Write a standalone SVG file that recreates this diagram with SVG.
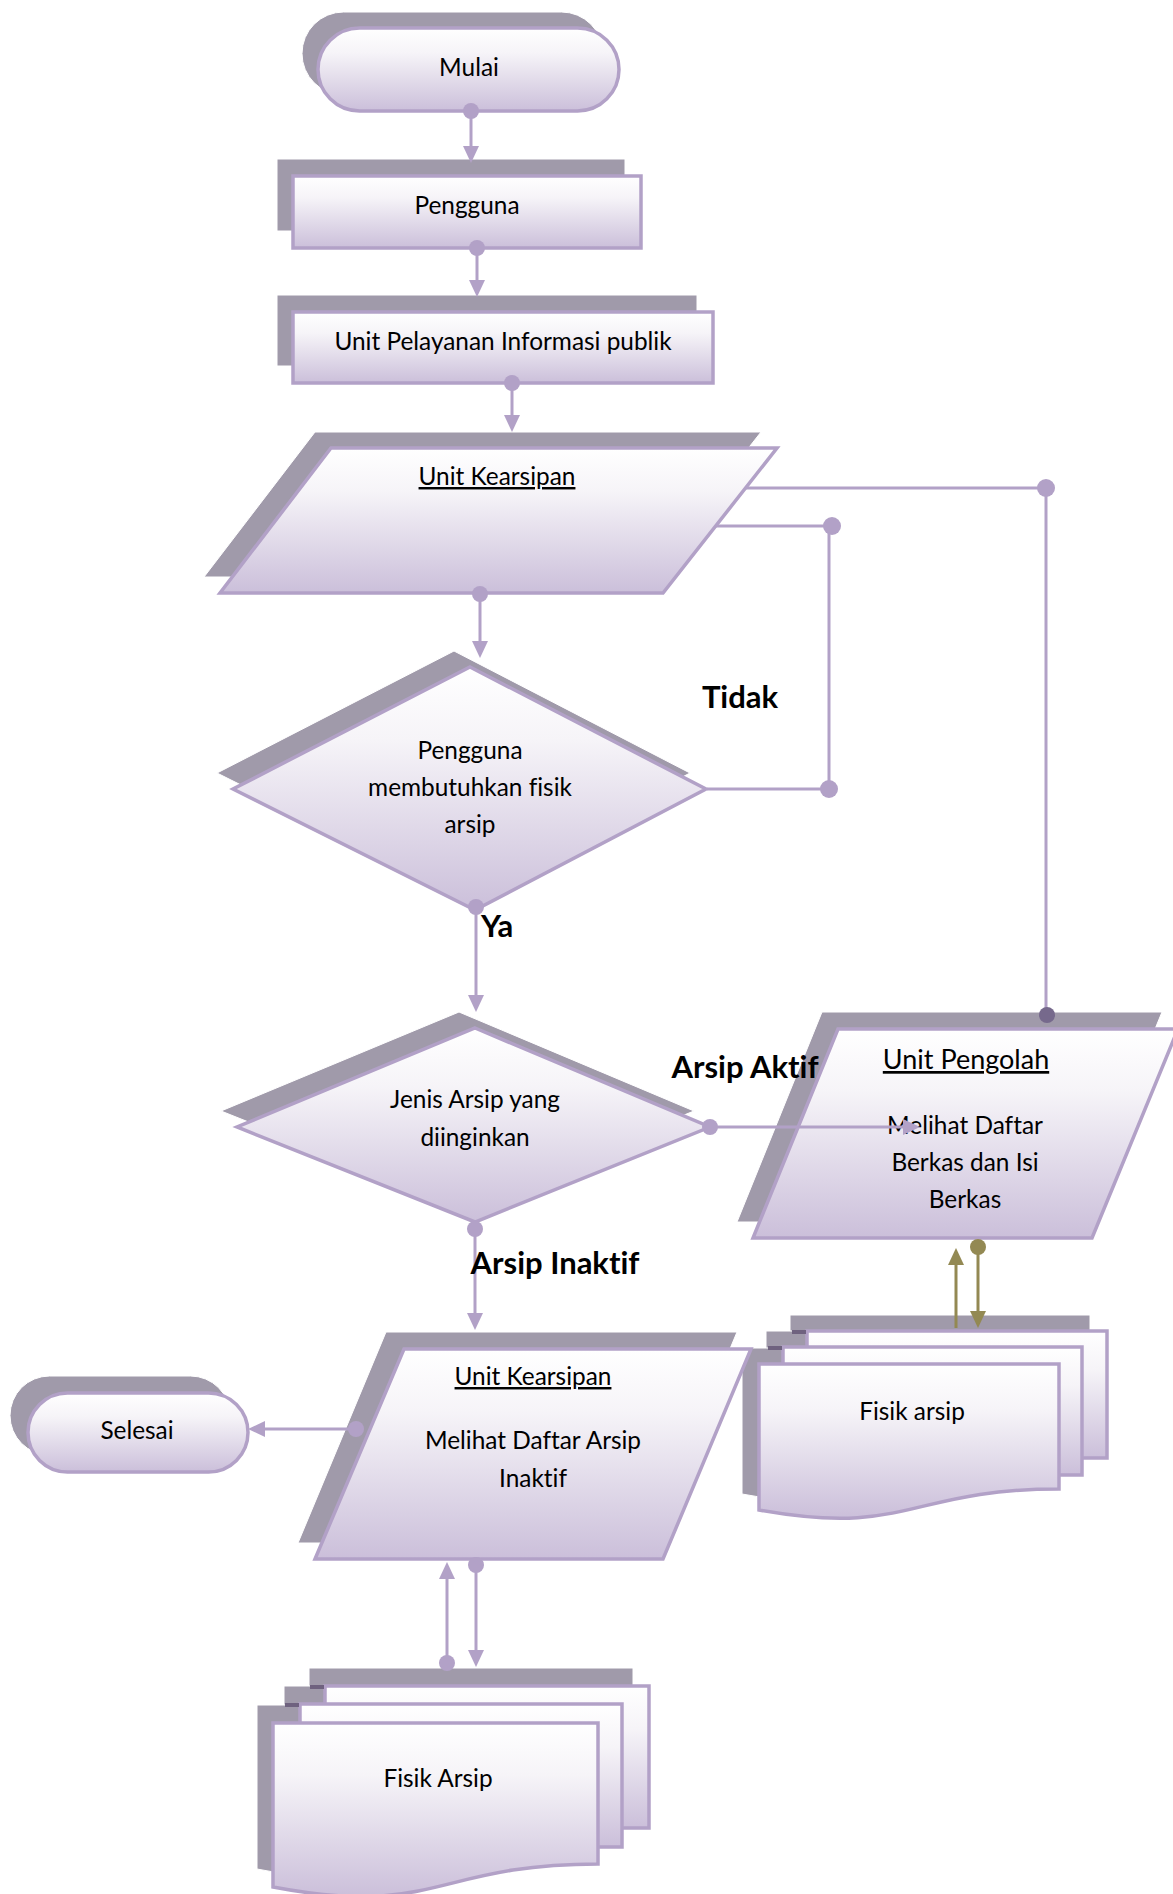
<svg xmlns="http://www.w3.org/2000/svg" width="1173" height="1894" viewBox="0 0 1173 1894">
<defs>
<linearGradient id="g" x1="0" y1="0" x2="0" y2="1">
<stop offset="0" stop-color="#ffffff"/>
<stop offset="0.3" stop-color="#f6f4f8"/>
<stop offset="1" stop-color="#cbbfda"/>
</linearGradient>
<marker id="arr" markerUnits="userSpaceOnUse" markerWidth="18" markerHeight="18" viewBox="0 0 18 18" refX="13" refY="9" orient="auto"><path d="M0,1 L17,9 L0,17 Z" fill="#b2a1c7"/></marker>
<marker id="arrO" markerUnits="userSpaceOnUse" markerWidth="18" markerHeight="18" viewBox="0 0 18 18" refX="13" refY="9" orient="auto"><path d="M0,1 L17,9 L0,17 Z" fill="#938953"/></marker>
</defs>
<style>
.sh{fill:#a09aaa;stroke:#ffffff;stroke-width:1}
.fr{fill:url(#g);stroke:#b2a1c7;stroke-width:3.5}
.t{font-family:Lato,'Liberation Sans',sans-serif;font-size:24.4px;fill:#000;text-anchor:middle;font-variant-ligatures:none}
.u{text-decoration:underline}
.b{font-family:Lato,'Liberation Sans',sans-serif;font-size:31px;font-weight:bold;fill:#000;font-variant-ligatures:none}
.ln{stroke:#b2a1c7;stroke-width:3;fill:none}
.lo{stroke:#938953;stroke-width:3;fill:none}
.dot{fill:#b2a1c7}
.notch{fill:#6f627f}
</style>
<rect width="1173" height="1894" fill="#ffffff"/>

<g id="mulai">
<rect class="sh" x="302" y="12" width="301" height="83" rx="41.5"/>
<rect class="fr" x="318" y="28" width="301" height="83" rx="41.5"/>
<text class="t" x="469" y="76">Mulai</text>
</g>

<g id="pengguna">
<rect class="sh" x="277" y="159" width="348" height="72"/>
<rect class="fr" x="293" y="176" width="348" height="72"/>
<text class="t" x="467" y="214">Pengguna</text>
</g>

<g id="upip">
<rect class="sh" x="277" y="295" width="420" height="71"/>
<rect class="fr" x="293" y="312" width="420" height="71"/>
<text class="t" x="503" y="350">Unit Pelayanan Informasi publik</text>
</g>

<g id="kearsipan1">
<polygon class="sh" points="315,432 761,432 647,577 204,577"/>
<polygon class="fr" points="331,448 777,448 663,593 220,593"/>
<text class="t u" x="497" y="485">Unit Kearsipan</text>
</g>

<g id="decision1">
<polygon class="sh" points="454,651 690,773 459,894 217,773"/>
<polygon class="fr" points="470,667 706,789 475,910 233,789"/>
<text class="t" x="470" y="759">Pengguna</text>
<text class="t" x="470" y="796">membutuhkan fisik</text>
<text class="t" x="470" y="833">arsip</text>
</g>

<g id="decision2">
<polygon class="sh" points="459,1012 694,1111 459,1206 221,1111"/>
<polygon class="fr" points="475,1028 710,1127 475,1222 237,1127"/>
<text class="t" x="475" y="1108">Jenis Arsip yang</text>
<text class="t" x="475" y="1146">diinginkan</text>
</g>

<g id="pengolah">
<polygon class="sh" points="822,1012 1162,1012 1076,1222 737,1222"/>
<polygon class="fr" points="838,1029 1178,1029 1092,1238 753,1238"/>
<text class="t u" x="966" y="1069" style="font-size:27px">Unit Pengolah</text>
<text class="t" x="965" y="1134">Melihat Daftar</text>
<text class="t" x="965" y="1171">Berkas dan Isi</text>
<text class="t" x="965" y="1208">Berkas</text>
</g>

<g id="fisik-arsip-aktif">
<rect class="sh" x="790" y="1315" width="300" height="127"/>
<rect class="sh" x="766" y="1331" width="299" height="128"/>
<path class="sh" d="M742,1348 H1042 V1473 C892,1473 892,1521 742,1494 Z"/>
<rect class="fr" x="807" y="1331" width="300" height="127"/>
<rect class="notch" x="792" y="1330" width="14" height="4"/>
<rect class="fr" x="783" y="1347" width="299" height="128"/>
<rect class="notch" x="768" y="1346" width="14" height="4"/>
<path class="fr" d="M759,1364 H1059 V1489 C909,1489 909,1537 759,1510 Z"/>
<text class="t" x="912" y="1420">Fisik arsip</text>
</g>

<g id="kearsipan2">
<polygon class="sh" points="386,1332 737,1332 649,1543 298,1543"/>
<polygon class="fr" points="404,1349 751,1349 663,1559 315,1559"/>
<text class="t u" x="533" y="1385">Unit Kearsipan</text>
<text class="t" x="533" y="1449">Melihat Daftar Arsip</text>
<text class="t" x="533" y="1487">Inaktif</text>
</g>

<g id="selesai">
<rect class="sh" x="10" y="1376" width="220" height="79" rx="39.5"/>
<rect class="fr" x="28" y="1393" width="220" height="79" rx="39.5"/>
<text class="t" x="137" y="1439">Selesai</text>
</g>

<g id="fisik-arsip-inaktif">
<rect class="sh" x="309" y="1668" width="324" height="142"/>
<rect class="sh" x="284" y="1686" width="322" height="143"/>
<path class="sh" d="M257,1705 H582 V1846 C420,1846 420,1900 257,1869 Z"/>
<rect class="fr" x="325" y="1686" width="324" height="142"/>
<rect class="notch" x="310" y="1685" width="14" height="4"/>
<rect class="fr" x="300" y="1704" width="322" height="143"/>
<rect class="notch" x="285" y="1703" width="14" height="4"/>
<path class="fr" d="M273,1723 H598 V1864 C436,1864 436,1918 273,1887 Z"/>
<text class="t" x="438" y="1787">Fisik Arsip</text>
</g>

<g id="connectors">
<line class="ln" x1="471" y1="111" x2="471" y2="159" marker-end="url(#arr)"/>
<circle class="dot" cx="471" cy="111" r="8"/>
<line class="ln" x1="477" y1="248" x2="477" y2="293" marker-end="url(#arr)"/>
<circle class="dot" cx="477" cy="248" r="8"/>
<line class="ln" x1="512" y1="383" x2="512" y2="428" marker-end="url(#arr)"/>
<circle class="dot" cx="512" cy="383" r="8"/>
<line class="ln" x1="480" y1="594" x2="480" y2="654" marker-end="url(#arr)"/>
<circle class="dot" cx="480" cy="594" r="8"/>
<line class="ln" x1="476" y1="907" x2="476" y2="1008" marker-end="url(#arr)"/>
<circle class="dot" cx="476" cy="907" r="8"/>
<line class="ln" x1="475" y1="1229" x2="475" y2="1326" marker-end="url(#arr)"/>
<circle class="dot" cx="475" cy="1229" r="8"/>
<line class="ln" x1="710" y1="1127" x2="916" y2="1127" marker-end="url(#arr)"/>
<circle class="dot" cx="710" cy="1127" r="8"/>
<polyline class="ln" points="707,789 829,789 829,526 716,526"/>
<circle class="dot" cx="829" cy="789" r="9"/>
<circle class="dot" cx="832" cy="526" r="9"/>
<polyline class="ln" points="746,488 1046,488 1046,1015"/>
<circle class="dot" cx="1046" cy="488" r="9"/>
<circle cx="1047" cy="1015" r="8" fill="#76698c"/>
<line class="lo" x1="956" y1="1328" x2="956" y2="1252" marker-end="url(#arrO)"/>
<line class="lo" x1="978" y1="1247" x2="978" y2="1324" marker-end="url(#arrO)"/>
<circle cx="978" cy="1247" r="8" fill="#938953"/>
<line class="ln" x1="356" y1="1429" x2="252" y2="1429" marker-end="url(#arr)"/>
<circle class="dot" cx="356" cy="1429" r="8"/>
<line class="ln" x1="447" y1="1663" x2="447" y2="1566" marker-end="url(#arr)"/>
<circle class="dot" cx="447" cy="1663" r="8"/>
<line class="ln" x1="476" y1="1565" x2="476" y2="1663" marker-end="url(#arr)"/>
<circle class="dot" cx="476" cy="1565" r="8"/>
</g>

<g id="labels">
<text class="b" x="740" y="708" text-anchor="middle">Tidak</text>
<text class="b" x="481" y="937">Ya</text>
<text class="b" x="745" y="1078" text-anchor="middle">Arsip Aktif</text>
<text class="b" x="555" y="1274" text-anchor="middle">Arsip Inaktif</text>
</g>
</svg>
